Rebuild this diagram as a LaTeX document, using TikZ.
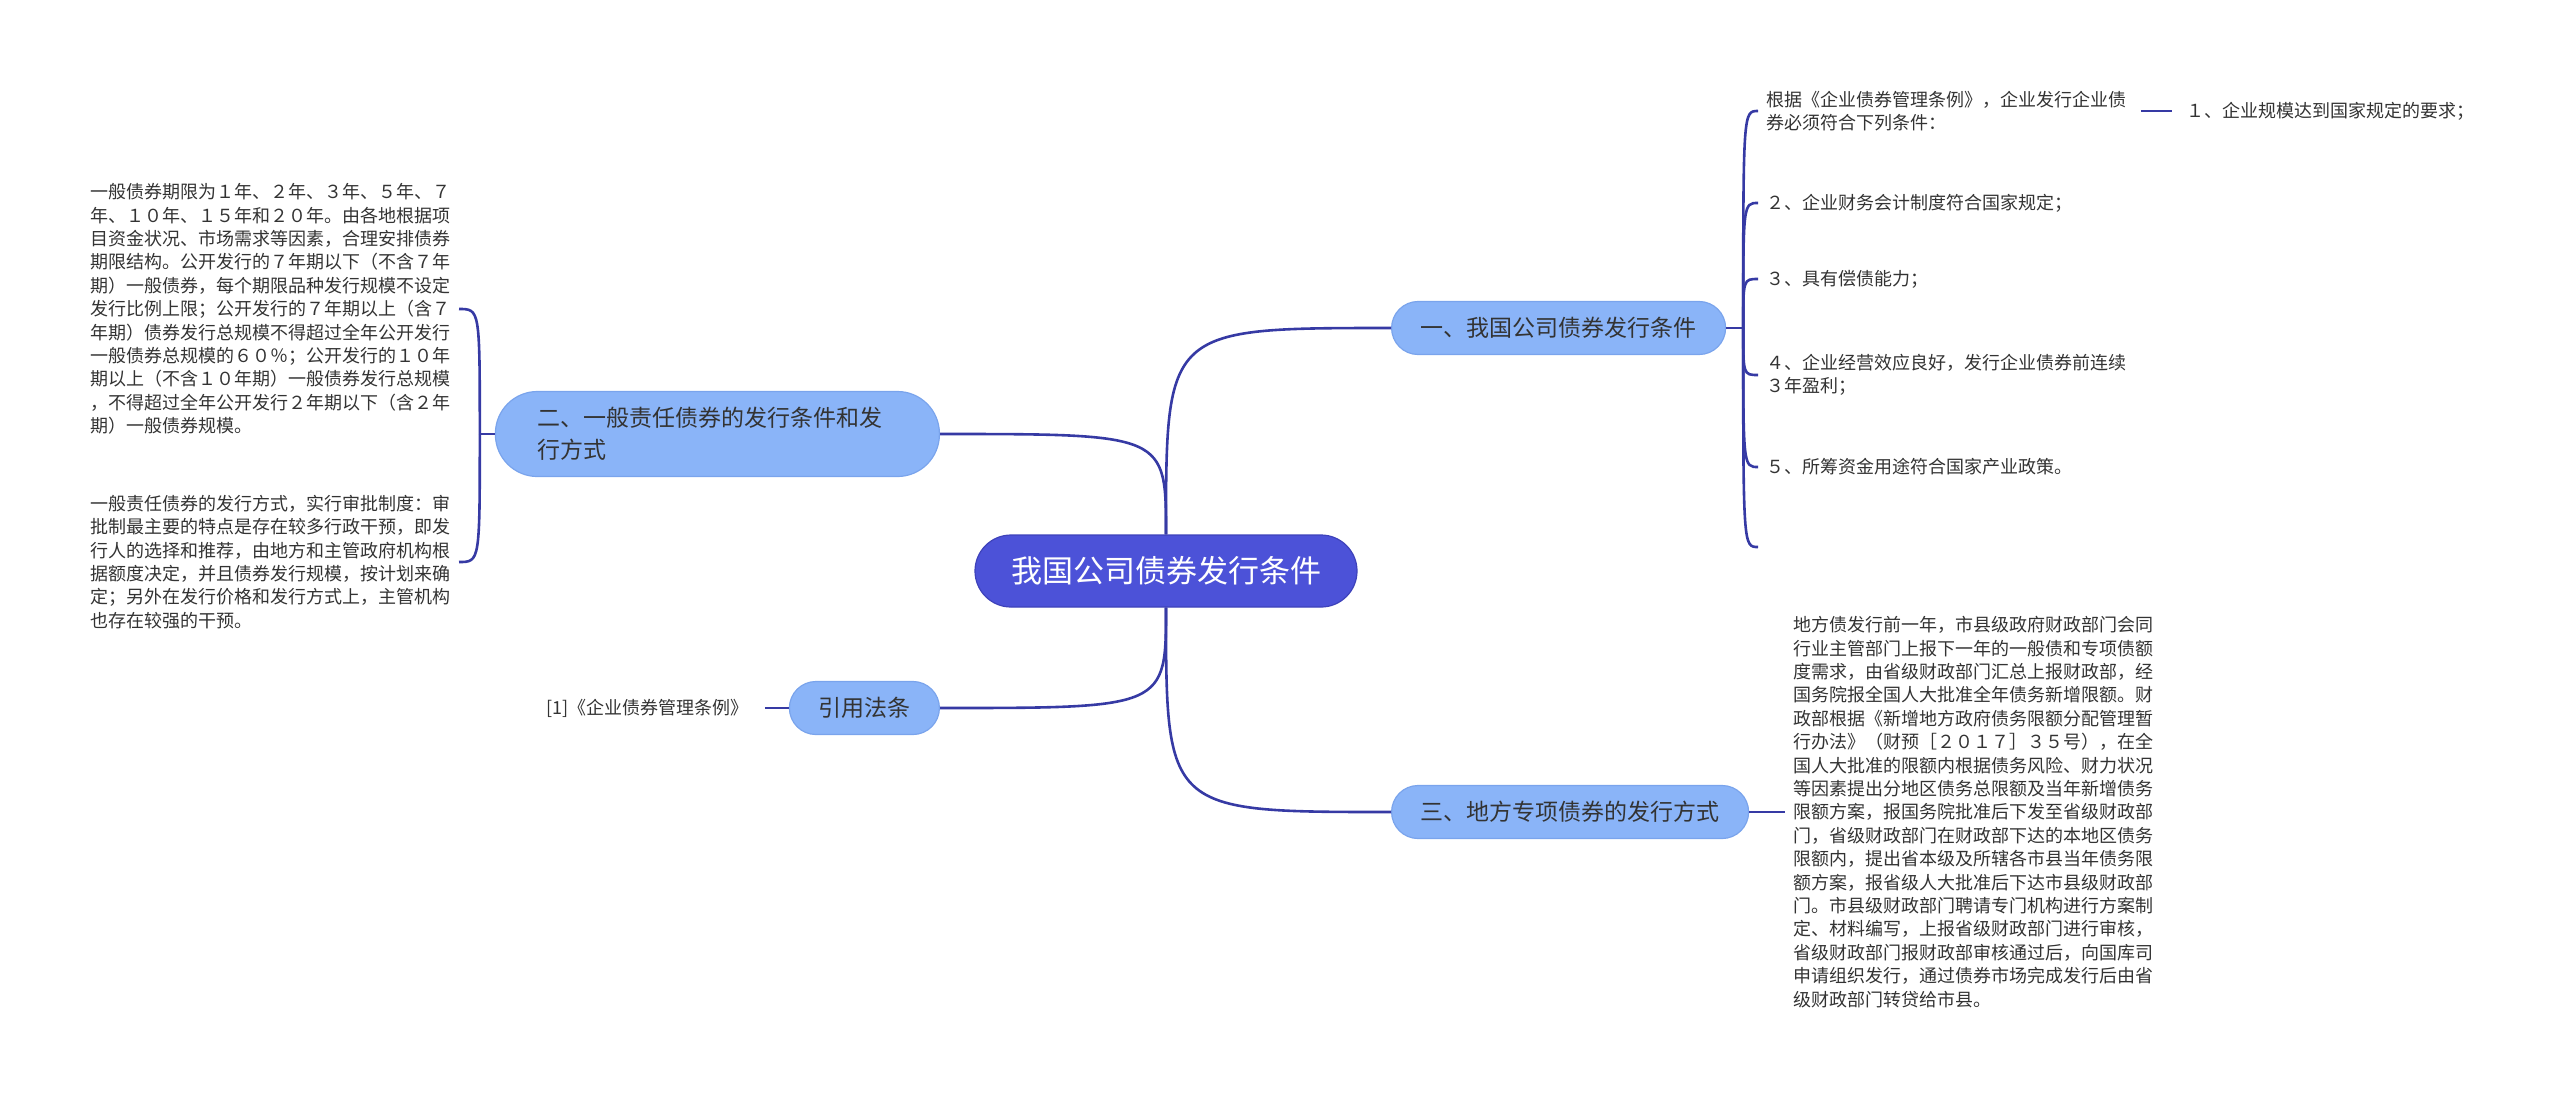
\documentclass[tikz,border=0pt]{standalone}
\usepackage{fontspec}
\setmainfont{Noto Sans CJK SC}
\usetikzlibrary{positioning}
\definecolor{linkc}{RGB}{54,58,164}
\definecolor{rootc}{RGB}{76,82,216}
\definecolor{rootb}{RGB}{62,66,186}
\definecolor{subc}{RGB}{138,180,248}
\definecolor{subb}{RGB}{122,164,236}
\definecolor{txt}{RGB}{51,51,51}

\begin{document}
\begin{tikzpicture}[x=0.5pt,y=-0.5pt,
  link/.style={draw=linkc,line width=1.3pt},
  root/.style={fill=rootc,draw=rootb,line width=0.6pt,rounded corners=18pt,minimum height=36pt,inner xsep=18pt,font=\fontsize{15.5}{18}\selectfont,text=white},
  topic/.style={fill=subc,draw=subb,line width=0.6pt,rounded corners=13.25pt,minimum height=26.5pt,inner xsep=14.5pt,font=\fontsize{11.5}{16}\selectfont,text=txt},
  leaf/.style={align=left,inner xsep=4pt,inner ysep=0pt,font=\fontsize{9}{11.7}\selectfont,text=txt}]
\useasboundingbox (0,0) rectangle (2560,1099);
\node[root] (root) at (1166,571) {我国公司债券发行条件};
\node[topic,anchor=west] (one) at (1391,328) {一、我国公司债券发行条件};
\node[topic,anchor=west] (three) at (1391,812) {三、地方专项债券的发行方式};
\node[topic,anchor=east,align=left,text width=180pt,inner xsep=21pt,minimum height=42.5pt,rounded corners=21pt] (two) at (940,434) {二、一般责任债券的发行条件和发\\行方式};
\node[topic,anchor=east] (cite) at (940,708) {引用法条};
\draw[link] (root.north) .. controls (root.north |- one.west) .. (one.west);
\draw[link] (root.north) .. controls (root.north |- two.east) .. (two.east);
\draw[link] (root.south) .. controls (root.south |- cite.east) .. (cite.east);
\draw[link] (root.south) .. controls (root.south |- three.west) .. (three.west);
% right: conditions
\coordinate[right=8.5pt of one] (j1);
\node[leaf,anchor=west] (c1) at (1758,111) {根据《企业债券管理条例》，企业发行企业债\\券必须符合下列条件：};
\node[leaf,right=21.5pt of c1] (c1a) {１、企业规模达到国家规定的要求；};
\node[leaf,anchor=west] (c2) at (1758,203) {２、企业财务会计制度符合国家规定；};
\node[leaf,anchor=west] (c3) at (1758,279) {３、具有偿债能力；};
\node[leaf,anchor=west] (c4) at (1758,375) {４、企业经营效应良好，发行企业债券前连续\\３年盈利；};
\node[leaf,anchor=west] (c5) at (1758,467) {５、所筹资金用途符合国家产业政策。};
\coordinate (c6) at (1758,547);
\draw[link] (one) -- (j1);
\foreach \c in {c1,c2,c3,c4,c5}{\draw[link] (j1) .. controls (j1 |- \c.west) .. (\c.west);}
\draw[link] (j1) .. controls (j1 |- c6) .. (c6);
\draw[link] ([xshift=3pt]c1.east) -- ([xshift=-3pt]c1a.west);
% left: general bonds
\coordinate[left=7.5pt of two] (j2);
\node[leaf,anchor=east] (t1) at (459,309) {一般债券期限为１年、２年、３年、５年、７\\年、１０年、１５年和２０年。由各地根据项\\目资金状况、市场需求等因素，合理安排债券\\期限结构。公开发行的７年期以下（不含７年\\期）一般债券，每个期限品种发行规模不设定\\发行比例上限；公开发行的７年期以上（含７\\年期）债券发行总规模不得超过全年公开发行\\一般债券总规模的６０％；公开发行的１０年\\期以上（不含１０年期）一般债券发行总规模\\，不得超过全年公开发行２年期以下（含２年\\期）一般债券规模。};
\node[leaf,anchor=east] (t2) at (459,562) {一般责任债券的发行方式，实行审批制度：审\\批制最主要的特点是存在较多行政干预，即发\\行人的选择和推荐，由地方和主管政府机构根\\据额度决定，并且债券发行规模，按计划来确\\定；另外在发行价格和发行方式上，主管机构\\也存在较强的干预。};
\draw[link] (two) -- (j2);
\foreach \t in {t1,t2}{\draw[link] (j2) .. controls (j2 |- \t.east) .. (\t.east);}
% cite and local bonds
\node[leaf,left=16pt of cite] (ref1) {[1]《企业债券管理条例》};
\draw[link] ([xshift=4pt]ref1.east) -- (cite);
\node[leaf,right=18pt of three] (t3) {地方债发行前一年，市县级政府财政部门会同\\行业主管部门上报下一年的一般债和专项债额\\度需求，由省级财政部门汇总上报财政部，经\\国务院报全国人大批准全年债务新增限额。财\\政部根据《新增地方政府债务限额分配管理暂\\行办法》（财预［２０１７］３５号），在全\\国人大批准的限额内根据债务风险、财力状况\\等因素提出分地区债务总限额及当年新增债务\\限额方案，报国务院批准后下发至省级财政部\\门，省级财政部门在财政部下达的本地区债务\\限额内，提出省本级及所辖各市县当年债务限\\额方案，报省级人大批准后下达市县级财政部\\门。市县级财政部门聘请专门机构进行方案制\\定、材料编写，上报省级财政部门进行审核，\\省级财政部门报财政部审核通过后，向国库司\\申请组织发行，通过债券市场完成发行后由省\\级财政部门转贷给市县。};
\draw[link] (three) -- (t3);
\end{tikzpicture}
\end{document}
